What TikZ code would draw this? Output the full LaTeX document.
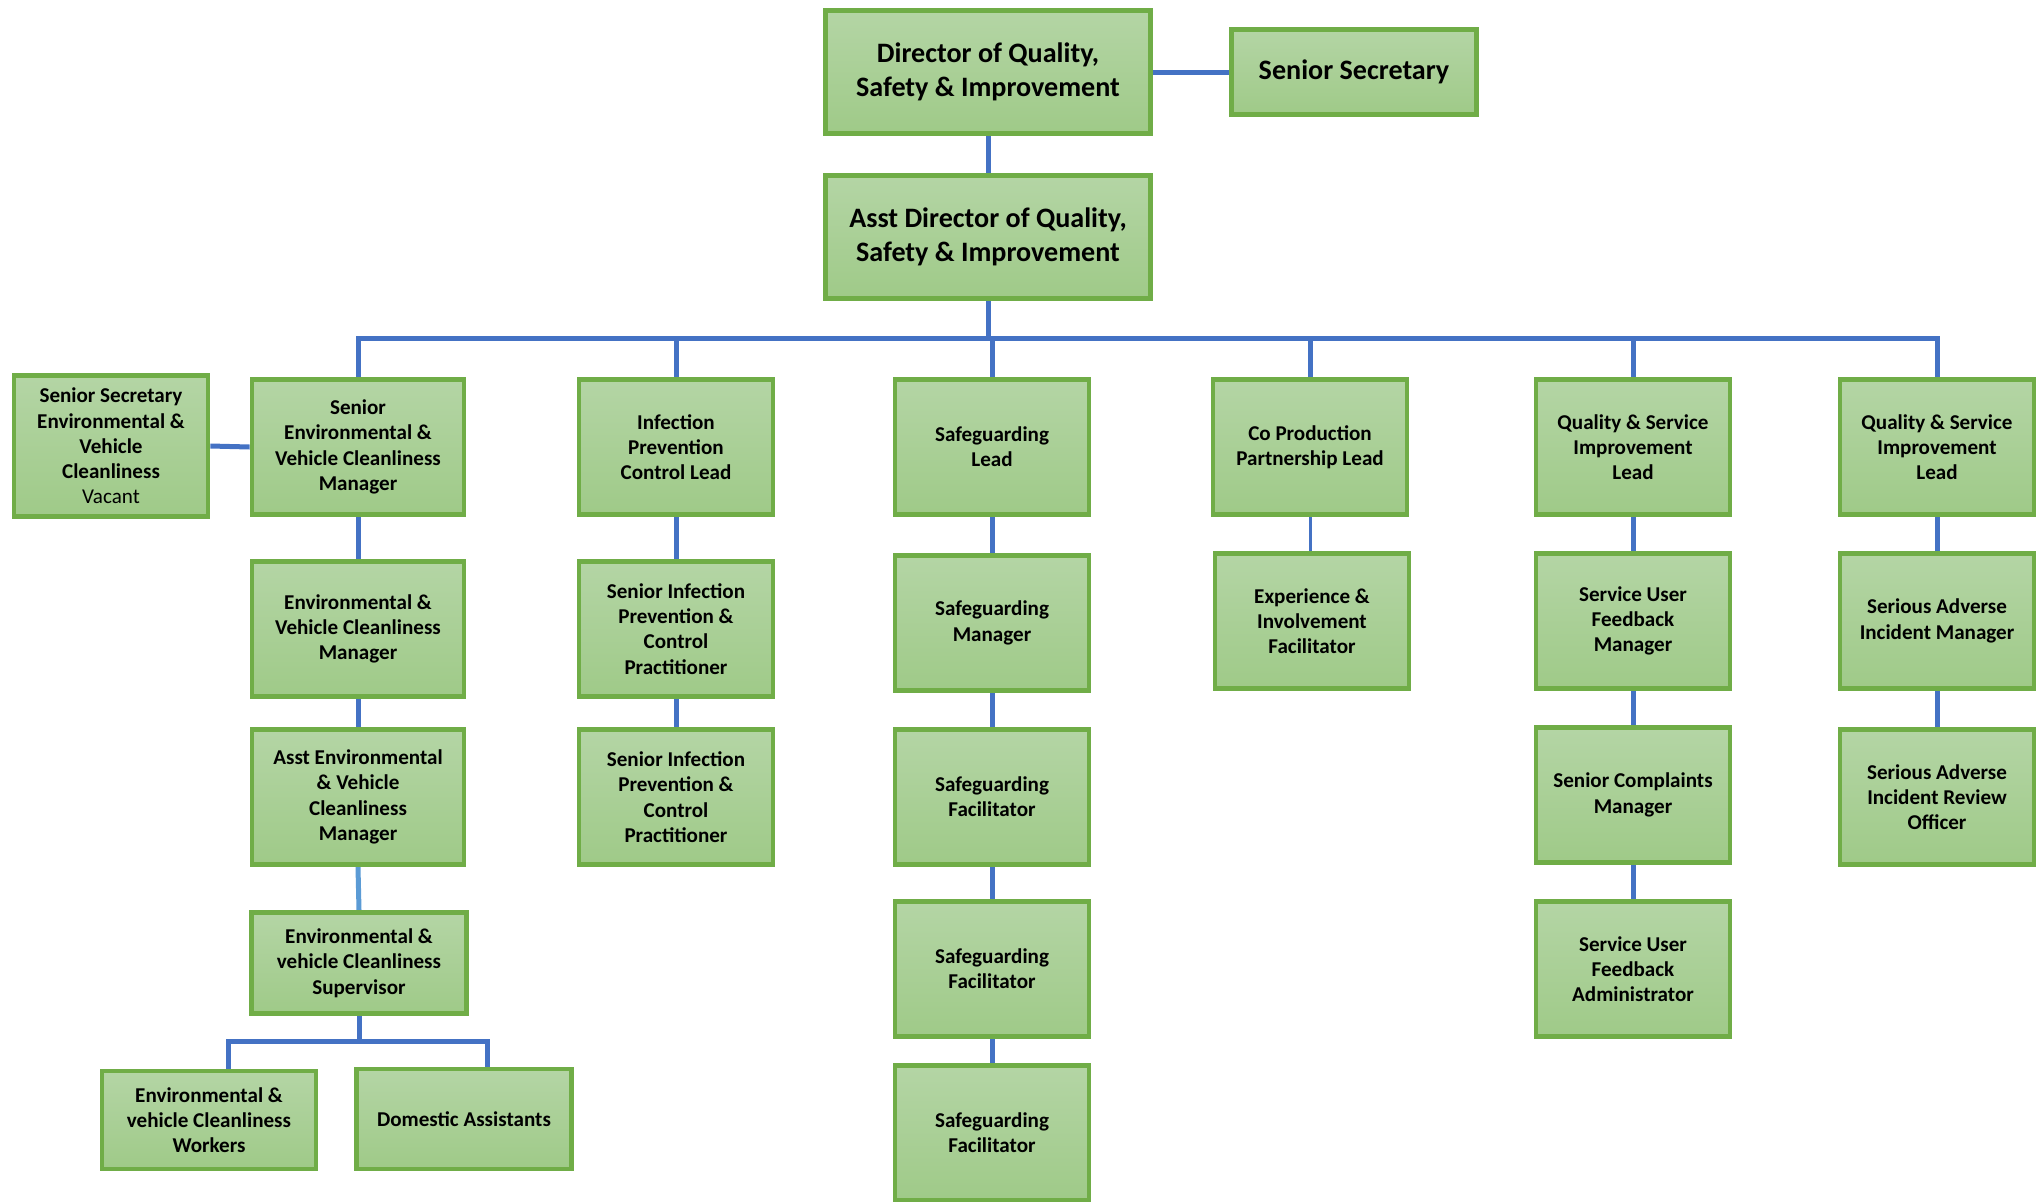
\documentclass[tikz,border=0pt]{standalone}
\usepackage{fontspec}
\setmainfont{Carlito}
\definecolor{boxgreen}{HTML}{70AD47}
\definecolor{filltop}{HTML}{B4D5A5}
\definecolor{fillbot}{HTML}{9FCA88}
\definecolor{linkblue}{HTML}{4472C4}
\definecolor{lightblue}{HTML}{5B9BD5}
\begin{document}
\begin{tikzpicture}[x=0.2mm,y=-0.2mm,
    post/.style={rectangle,draw=boxgreen,line width=0.95mm,top color=filltop,bottom color=fillbot,
      inner sep=0pt,align=center,text=black,font=\bfseries\fontsize{12}{14.4}\selectfont,
      minimum width=38.8mm,minimum height=27.1mm},
    bigpost/.style={post,font=\bfseries\fontsize{16}{19.4}\selectfont,
      minimum width=65.0mm,minimum height=24.7mm},
    link/.style={draw=linkblue,line width=1mm}]
  \useasboundingbox (0,0) rectangle (2037,1202);
  % top of the chart
  \node[bigpost] (dir) at (988,72) {Director of Quality,\\Safety \& Improvement};
  \node[bigpost,minimum width=49.0mm,minimum height=16.9mm] (sec) at (1354,72) {Senior Secretary};
  \node[bigpost] (asst) at (988,237) {Asst Director of Quality,\\Safety \& Improvement};
  % first row
  \node[post,minimum height=28.3mm] (secenv) at (111,446)
    {Senior Secretary\\Environmental \&\\Vehicle\\Cleanliness\\\mdseries Vacant};
  \node[post,minimum width=42.4mm] (senv) at (358,447) {Senior\\Environmental \&\\Vehicle Cleanliness\\Manager};
  \node[post] (ipc) at (676,447) {Infection\\Prevention\\Control Lead};
  \node[post] (sg) at (992,447) {Safeguarding\\Lead};
  \node[post] (cop) at (1310,447) {Co Production\\Partnership Lead};
  \node[post] (qs1) at (1633,447) {Quality \& Service\\Improvement\\Lead};
  \node[post] (qs2) at (1937,447) {Quality \& Service\\Improvement\\Lead};
  % second row
  \node[post,minimum width=42.4mm] (envm) at (358,629) {Environmental \&\\Vehicle Cleanliness\\Manager};
  \node[post] (sip1) at (676,629) {Senior Infection\\Prevention \&\\Control\\Practitioner};
  \node[post] (sgm) at (992,623) {Safeguarding\\Manager};
  \node[post] (exp) at (1312,621) {Experience \&\\Involvement\\Facilitator};
  \node[post] (suf) at (1633,621) {Service User\\Feedback\\Manager};
  \node[post] (sai) at (1937,621) {Serious Adverse\\Incident Manager};
  % third row
  \node[post,minimum width=42.4mm] (aenv) at (358,797) {Asst Environmental\\\& Vehicle\\Cleanliness\\Manager};
  \node[post] (sip2) at (676,797) {Senior Infection\\Prevention \&\\Control\\Practitioner};
  \node[post] (sgf1) at (992,797) {Safeguarding\\Facilitator};
  \node[post] (scm) at (1633,795) {Senior Complaints\\Manager};
  \node[post] (sair) at (1937,797) {Serious Adverse\\Incident Review\\Officer};
  % fourth row
  \node[post,minimum width=43.0mm,minimum height=20.3mm] (envs) at (359,963)
    {Environmental \&\\vehicle Cleanliness\\Supervisor};
  \node[post] (sgf2) at (992,969) {Safeguarding\\Facilitator};
  \node[post] (sua) at (1633,969) {Service User\\Feedback\\Administrator};
  % fifth row
  \node[post,minimum width=42.8mm,minimum height=19.6mm] (envw) at (209,1120)
    {Environmental \&\\vehicle Cleanliness\\Workers};
  \node[post,minimum width=43.0mm,minimum height=20.0mm] (dom) at (464,1119) {Domestic Assistants};
  \node[post] (sgf3) at (992,1133) {Safeguarding\\Facilitator};
  % connectors
  \coordinate (bus) at (988,338);
  \coordinate (wl) at (228,1041);
  \coordinate (wr) at (487,1041);
  \draw[link] (dir.east) -- (sec.west);
  \draw[link] (dir.south) -- (asst.north);
  \draw[link] (asst.south) -- (bus);
  \foreach \n in {senv,ipc,sg,cop,qs1,qs2}
  {
    \draw[link] (\n.north) |- (bus);
  }
  \draw[link] (secenv.east) -- (senv.west);
  \foreach \a/\b in {senv/envm,envm/aenv,ipc/sip1,sip1/sip2,sg/sgm,sgm/sgf1,sgf1/sgf2,sgf2/sgf3,
      qs1/suf,suf/scm,scm/sua,qs2/sai,sai/sair}
  {
    \draw[link] (\a.south) -- (\b.north);
  }
  \draw[link,draw=lightblue] (aenv.south) -- (envs.north);
  \draw[link,line width=0.6mm] (cop.south) -- (cop.south |- exp.north);
  \draw[link] (envs.south) -- (envs.south |- wl);
  \draw[link] (envw.north -| wl) -- (wl) -- (wr) -- (dom.north -| wr);
\end{tikzpicture}
\end{document}
